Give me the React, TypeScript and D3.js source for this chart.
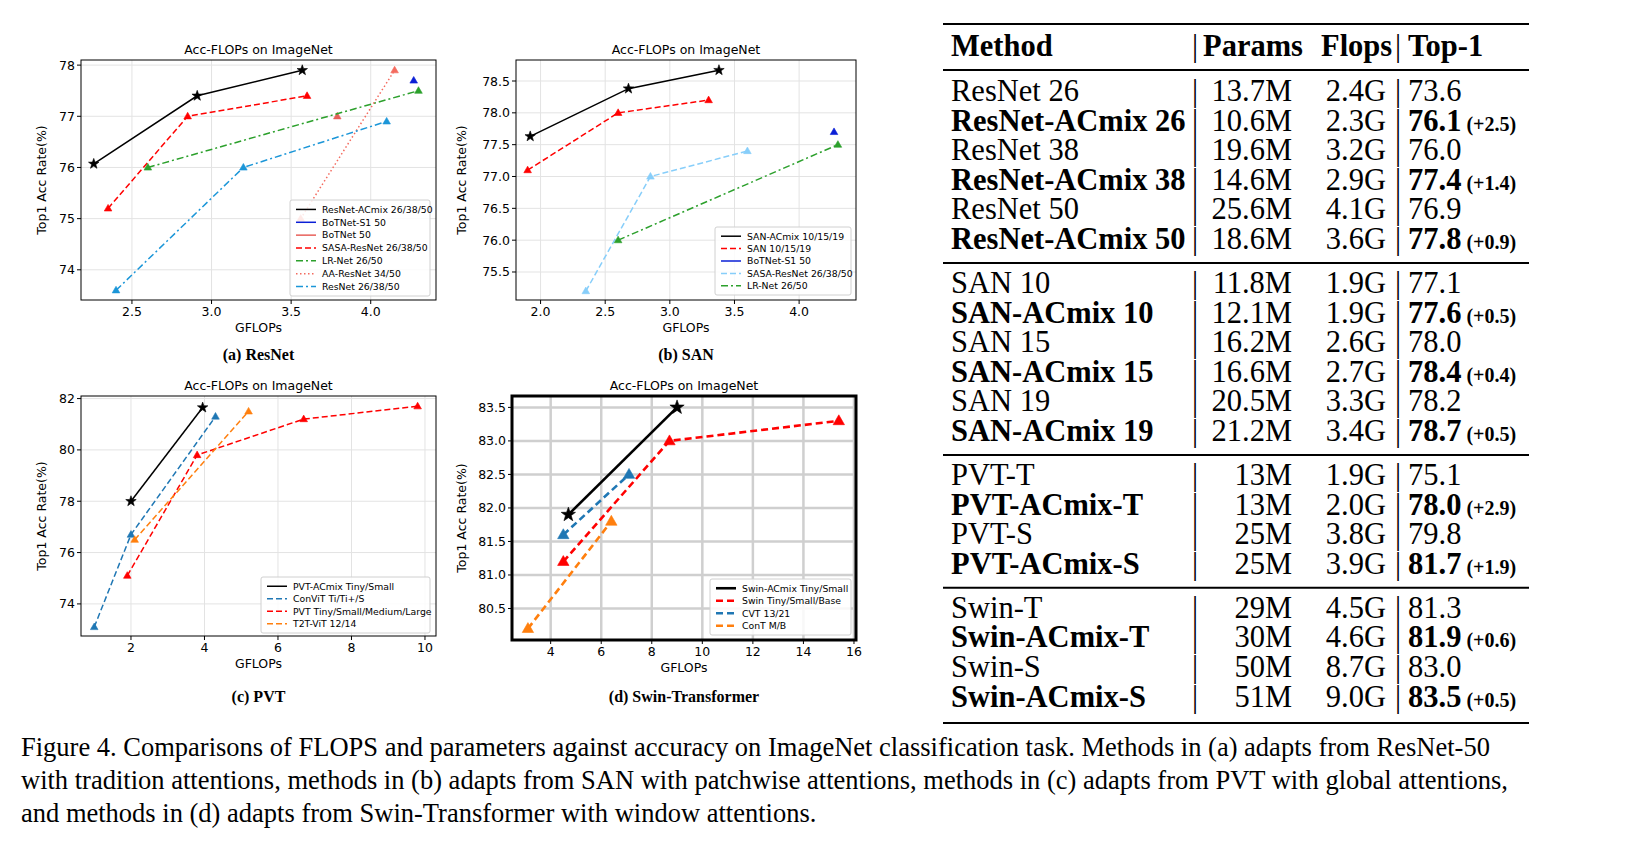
import React from "react";
import * as d3 from "d3";

// ---- data ----
type Series = { name: string; color: string; dash: string; marker: "star" | "tri"; xs: number[]; ys: number[] };

const resnetSeries: Series[] = [
  { name: "ResNet-ACmix 26/38/50", color: "#000000", dash: "", marker: "star", xs: [2.26, 2.91, 3.57], ys: [76.07, 77.4, 77.9] },
  { name: "BoTNet-S1 50", color: "#0a1fd6", dash: "", marker: "tri", xs: [4.27], ys: [77.7] },
  { name: "BoTNet 50", color: "#e8605a", dash: "", marker: "tri", xs: [3.79], ys: [77.0] },
  { name: "SASA-ResNet 26/38/50", color: "#ff0000", dash: "6,3", marker: "tri", xs: [2.35, 2.85, 3.6], ys: [75.2, 77.0, 77.4] },
  { name: "LR-Net 26/50", color: "#2ca02c", dash: "7,3,2,3", marker: "tri", xs: [2.6, 4.3], ys: [76.0, 77.5] },
  { name: "AA-ResNet 34/50", color: "#f46a5e", dash: "1.5,2.5", marker: "tri", xs: [3.56, 4.15], ys: [75.0, 77.9] },
  { name: "ResNet 26/38/50", color: "#1b96d8", dash: "7,3,2,3", marker: "tri", xs: [2.4, 3.2, 4.1], ys: [73.6, 76.0, 76.9] },
];
const sanSeries: Series[] = [
  { name: "SAN-ACmix 10/15/19", color: "#000000", dash: "", marker: "star", xs: [1.92, 2.68, 3.38], ys: [77.63, 78.38, 78.67] },
  { name: "SAN 10/15/19", color: "#ff0000", dash: "6,3", marker: "tri", xs: [1.9, 2.6, 3.3], ys: [77.1, 78.0, 78.2] },
  { name: "BoTNet-S1 50", color: "#0a1fd6", dash: "", marker: "tri", xs: [4.27], ys: [77.7] },
  { name: "SASA-ResNet 26/38/50", color: "#87cefa", dash: "6,3", marker: "tri", xs: [2.35, 2.85, 3.6], ys: [75.2, 77.0, 77.4] },
  { name: "LR-Net 26/50", color: "#2ca02c", dash: "7,3,2,3", marker: "tri", xs: [2.6, 4.3], ys: [76.0, 77.5] },
];
const pvtSeries: Series[] = [
  { name: "PVT-ACmix Tiny/Small", color: "#000000", dash: "", marker: "star", xs: [2.0, 3.95], ys: [78.0, 81.65] },
  { name: "ConViT Ti/Ti+/S", color: "#1f77b4", dash: "6,3", marker: "tri", xs: [1.0, 2.0, 4.3], ys: [73.1, 76.7, 81.3] },
  { name: "PVT Tiny/Small/Medium/Large", color: "#ff0000", dash: "6,3", marker: "tri", xs: [1.9, 3.8, 6.7, 9.8], ys: [75.1, 79.8, 81.2, 81.7] },
  { name: "T2T-ViT 12/14", color: "#ff7f0e", dash: "6,3", marker: "tri", xs: [2.1, 5.2], ys: [76.5, 81.5] },
];
const swinSeries: Series[] = [
  { name: "Swin-ACmix Tiny/Small", color: "#000000", dash: "", marker: "star", xs: [4.7, 9.0], ys: [81.9, 83.5] },
  { name: "Swin Tiny/Small/Base", color: "#ff0000", dash: "7,4", marker: "tri", xs: [4.5, 8.7, 15.4], ys: [81.2, 83.0, 83.3] },
  { name: "CVT 13/21", color: "#1f77b4", dash: "7,4", marker: "tri", xs: [4.5, 7.1], ys: [81.6, 82.5] },
  { name: "ConT M/B", color: "#ff7f0e", dash: "7,4", marker: "tri", xs: [3.1, 6.4], ys: [80.2, 81.8] },
];

const resnetXTicks = [2.5, 3.0, 3.5, 4.0];
const resnetYTicks = [74, 75, 76, 77, 78];
const sanXTicks = [2.0, 2.5, 3.0, 3.5, 4.0];
const sanYTicks = [75.5, 76.0, 76.5, 77.0, 77.5, 78.0, 78.5];
const pvtXTicks = [2, 4, 6, 8, 10];
const pvtYTicks = [74, 76, 78, 80, 82];
const swinXTicks = [4, 6, 8, 10, 12, 14, 16];
const swinYTicks = [80.5, 81.0, 81.5, 82.0, 82.5, 83.0, 83.5];

const tableHeader = ["Method", "Params", "Flops", "Top-1"];
const tableGroups: [string, string, string, string, string, boolean][][] = [
  [
    ["ResNet 26", "13.7M", "2.4G", "73.6", "", false],
    ["ResNet-ACmix 26", "10.6M", "2.3G", "76.1", "(+2.5)", true],
    ["ResNet 38", "19.6M", "3.2G", "76.0", "", false],
    ["ResNet-ACmix 38", "14.6M", "2.9G", "77.4", "(+1.4)", true],
    ["ResNet 50", "25.6M", "4.1G", "76.9", "", false],
    ["ResNet-ACmix 50", "18.6M", "3.6G", "77.8", "(+0.9)", true],
  ],
  [
    ["SAN 10", "11.8M", "1.9G", "77.1", "", false],
    ["SAN-ACmix 10", "12.1M", "1.9G", "77.6", "(+0.5)", true],
    ["SAN 15", "16.2M", "2.6G", "78.0", "", false],
    ["SAN-ACmix 15", "16.6M", "2.7G", "78.4", "(+0.4)", true],
    ["SAN 19", "20.5M", "3.3G", "78.2", "", false],
    ["SAN-ACmix 19", "21.2M", "3.4G", "78.7", "(+0.5)", true],
  ],
  [
    ["PVT-T", "13M", "1.9G", "75.1", "", false],
    ["PVT-ACmix-T", "13M", "2.0G", "78.0", "(+2.9)", true],
    ["PVT-S", "25M", "3.8G", "79.8", "", false],
    ["PVT-ACmix-S", "25M", "3.9G", "81.7", "(+1.9)", true],
  ],
  [
    ["Swin-T", "29M", "4.5G", "81.3", "", false],
    ["Swin-ACmix-T", "30M", "4.6G", "81.9", "(+0.6)", true],
    ["Swin-S", "50M", "8.7G", "83.0", "", false],
    ["Swin-ACmix-S", "51M", "9.0G", "83.5", "(+0.5)", true],
  ],
];

const captionLines = [
  "Figure 4. Comparisons of FLOPS and parameters against accuracy on ImageNet classification task. Methods in (a) adapts from ResNet-50",
  "with tradition attentions, methods in (b) adapts from SAN with patchwise attentions, methods in (c) adapts from PVT with global attentions,",
  "and methods in (d) adapts from Swin-Transformer with window attentions.",
];

const SANS = "DejaVu Sans, sans-serif";
const SERIF = "Liberation Serif, Times New Roman, serif";

function starPath(cx: number, cy: number, r: number) {
  const pts: string[] = [];
  for (let i = 0; i < 10; i++) {
    const a = -Math.PI / 2 + (i * Math.PI) / 5;
    const rr = i % 2 === 0 ? r : r * 0.4;
    pts.push(`${cx + rr * Math.cos(a)},${cy + rr * Math.sin(a)}`);
  }
  return "M" + pts.join("L") + "Z";
}
function triPath(cx: number, cy: number, r: number) {
  return `M${cx},${cy - r}L${cx + r * 0.95},${cy + r * 0.65}L${cx - r * 0.95},${cy + r * 0.65}Z`;
}

interface PanelProps {
  box: [number, number, number, number];
  xDomain: [number, number];
  yDomain: [number, number];
  xTicks: number[];
  yTicks: number[];
  xFmt: (v: number) => string;
  yFmt: (v: number) => string;
  series: Series[];
  legend: [number, number, number, number];
  caption: string;
  captionY: number;
  yLabelX: number;
  heavy?: boolean;
}

function Panel({ box, xDomain, yDomain, xTicks, yTicks, xFmt, yFmt, series, legend, caption, captionY, yLabelX, heavy }: PanelProps) {
  const [x0, y0, x1, y1] = box;
  const x = d3.scaleLinear().domain(xDomain).range([x0, x1]);
  const y = d3.scaleLinear().domain(yDomain).range([y1, y0]);
  const line = d3.line<[number, number]>().x((d) => x(d[0])).y((d) => y(d[1]));
  const lw = heavy ? 2.6 : 1.5;
  const ms = heavy ? 6 : 4;
  const [lx0, ly0, lx1, ly1] = legend;
  const step = (ly1 - ly0 - 6) / series.length;
  const cx = (x0 + x1) / 2;
  const gridColor = heavy ? "#cfcfcf" : "#e3e3e3";
  return (
    <g>
      {xTicks.filter((t) => x(t) < x1).map((t) => (
        <line key={"gx" + t} x1={x(t)} x2={x(t)} y1={y0} y2={y1} stroke={gridColor} strokeWidth={heavy ? 2.5 : 1} />
      ))}
      {yTicks.map((t) => (
        <line key={"gy" + t} y1={y(t)} y2={y(t)} x1={x0} x2={x1} stroke={gridColor} strokeWidth={heavy ? 2.5 : 1} />
      ))}
      {series.map((s) => (
        <g key={s.name}>
          {s.xs.length > 1 && (
            <path d={line(s.xs.map((v, i) => [v, s.ys[i]] as [number, number])) || ""} fill="none" stroke={s.color} strokeWidth={lw} strokeDasharray={s.dash} />
          )}
          {s.xs.map((v, i) => (
            <path key={i} d={s.marker === "star" ? starPath(x(v), y(s.ys[i]), ms + 1.5) : triPath(x(v), y(s.ys[i]), ms)} fill={s.color} stroke={s.color} strokeWidth={0.6} />
          ))}
        </g>
      ))}
      <rect x={x0} y={y0} width={x1 - x0} height={y1 - y0} fill="none" stroke="#000" strokeWidth={heavy ? 3 : 1} />
      {xTicks.map((t) => (
        <g key={"tx" + t}>
          <line x1={x(t)} x2={x(t)} y1={y1} y2={y1 + 4} stroke="#000" />
          <text x={x(t)} y={y1 + 16} textAnchor="middle" fontSize={12.5} fontFamily={SANS}>{xFmt(t)}</text>
        </g>
      ))}
      {yTicks.map((t) => (
        <g key={"ty" + t}>
          <line x1={x0 - 4} x2={x0} y1={y(t)} y2={y(t)} stroke="#000" />
          <text x={x0 - 6} y={y(t) + 4.5} textAnchor="end" fontSize={12.5} fontFamily={SANS}>{yFmt(t)}</text>
        </g>
      ))}
      <text x={cx} y={y0 - 6} textAnchor="middle" fontSize={12.5} fontFamily={SANS}>Acc-FLOPs on ImageNet</text>
      <text x={cx} y={y1 + 32} textAnchor="middle" fontSize={12.5} fontFamily={SANS}>GFLOPs</text>
      <text transform={`translate(${yLabelX},${(y0 + y1) / 2}) rotate(-90)`} textAnchor="middle" fontSize={12.5} fontFamily={SANS}>Top1 Acc Rate(%)</text>
      <rect x={lx0} y={ly0} width={lx1 - lx0} height={ly1 - ly0} rx={2} fill="#fff" fillOpacity={0.85} stroke="#d0d0d0" />
      {series.map((s, i) => {
        const ly = ly0 + 3 + step * (i + 0.5);
        return (
          <g key={"lg" + s.name}>
            <line x1={lx0 + 6} x2={lx0 + 26} y1={ly} y2={ly} stroke={s.color} strokeWidth={lw} strokeDasharray={s.dash} />
            <text x={lx0 + 32} y={ly + 3.3} fontSize={9.3} fontFamily={SANS}>{s.name}</text>
          </g>
        );
      })}
      <text x={cx} y={captionY} textAnchor="middle" fontSize={16} fontWeight="bold" fontFamily={SERIF}>{caption}</text>
    </g>
  );
}

function Table() {
  const rowH = 29.6;
  const fs = 30.5;
  let yy = 83;
  const rows: React.ReactNode[] = [];
  const rules: number[] = [16, 62];
  tableGroups.forEach((g, gi) => {
    if (gi > 0) {
      rules.push(yy - 5.6);
      yy += 14.4;
    }
    g.forEach((r, ri) => {
      const fw = r[5] ? "bold" : "normal";
      rows.push(
        <g key={gi + "-" + ri} fontFamily={SERIF} fontSize={fs}>
          <text x={943} y={yy + 10} fontWeight={fw}>{r[0]}</text>
          <text x={1184} y={yy + 10}>|</text>
          <text x={1284} y={yy + 10} textAnchor="end">{r[1]}</text>
          <text x={1378} y={yy + 10} textAnchor="end">{r[2]}</text>
          <text x={1387} y={yy + 10}>|</text>
          <text x={1400} y={yy + 10} fontWeight={fw}>
            {r[3]}
            {r[4] && <tspan fontSize={20} dx={5}>{r[4]}</tspan>}
          </text>
        </g>
      );
      yy += rowH;
    });
  });
  rules.push(715);
  return (
    <g>
      {rules.map((r, i) => (
        <line key={i} x1={935} x2={1521} y1={r} y2={r} stroke="#000" strokeWidth={2} />
      ))}
      <g fontFamily={SERIF} fontSize={fs} fontWeight="bold">
        <text x={943} y={48}>{tableHeader[0]}</text>
        <text x={1184} y={48} fontWeight="normal">|</text>
        <text x={1195} y={48}>{tableHeader[1]}</text>
        <text x={1313} y={48}>{tableHeader[2]}</text>
        <text x={1387} y={48} fontWeight="normal">|</text>
        <text x={1400} y={48}>{tableHeader[3]}</text>
      </g>
      {rows}
    </g>
  );
}

export default function App() {
  const f1 = d3.format(".1f");
  const f0 = d3.format("d");
  return (
    <svg width={1616} height={844} style={{ display: "block", background: "#fff" }}>
      <Panel box={[73, 52, 428, 292]} xDomain={[2.18, 4.41]} yDomain={[73.41, 78.1]} xTicks={resnetXTicks} yTicks={resnetYTicks}
        xFmt={f1} yFmt={f0} series={resnetSeries} legend={[282, 192, 422, 288]} caption="(a) ResNet" captionY={352} yLabelX={38} />
      <Panel box={[508, 52, 848, 292]} xDomain={[1.81, 4.44]} yDomain={[75.06, 78.83]} xTicks={sanXTicks} yTicks={sanYTicks}
        xFmt={f1} yFmt={f1} series={sanSeries} legend={[707, 219, 843, 287]} caption="(b) SAN" captionY={352} yLabelX={458} />
      <Panel box={[73, 388, 428, 628]} xDomain={[0.64, 10.3]} yDomain={[72.75, 82.1]} xTicks={pvtXTicks} yTicks={pvtYTicks}
        xFmt={f0} yFmt={f0} series={pvtSeries} legend={[253, 569, 422, 625]} caption="(c) PVT" captionY={694} yLabelX={38} />
      <Panel box={[504, 388, 848, 632]} xDomain={[2.47, 16.08]} yDomain={[80.03, 83.67]} xTicks={swinXTicks} yTicks={swinYTicks}
        xFmt={f0} yFmt={f1} series={swinSeries} legend={[702, 571, 843, 627]} caption="(d) Swin-Transformer" captionY={694} yLabelX={458} heavy />
      <Table />
      {captionLines.map((l, i) => (
        <text key={i} x={13} y={741 + i * 33 + 7} fontFamily={SERIF} fontSize={26.5}>{l}</text>
      ))}
    </svg>
  );
}
